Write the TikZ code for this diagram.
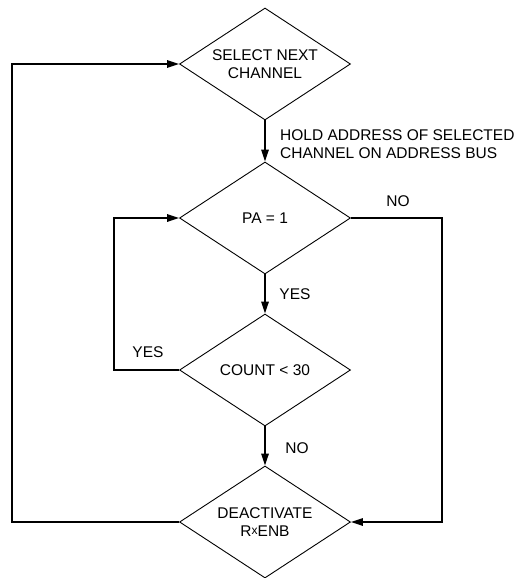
\documentclass[tikz,border=0pt]{standalone}
\usepackage{fontspec}
\setmainfont{Liberation Sans}
\usetikzlibrary{shapes.geometric,arrows.meta}
\begin{document}
\begin{tikzpicture}[x=1pt,y=-1pt,
  every node/.style={font=\fontsize{15.5}{18.5}\selectfont},
  dia/.style={diamond,draw,line width=0.9pt,aspect=1.52,inner sep=0pt,
    minimum width=171pt,minimum height=112pt,align=center},
  conn/.style={line width=1.6pt},
  arr/.style={conn,-{Triangle[length=12pt,width=7.5pt]}},
  lbl/.style={inner sep=0pt}]
\useasboundingbox (0,0) rectangle (522,578);
\node[dia] (d1) at (265,64) {SELECT NEXT\\CHANNEL};
\node[dia] (d2) at (265,218) {PA = 1};
\node[dia] (d3) at (265,370) {COUNT < 30};
\node[dia] (d4) at (265,522) {DEACTIVATE\\R\raisebox{1.8pt}{\fontsize{12}{12}\selectfont x}ENB};
\coordinate (lt) at (12,64);
\coordinate (lb) at (12,522);
\coordinate (it) at (114,218);
\coordinate (ib) at (114,370);
\coordinate (rt) at (442,218);
\coordinate (rb) at (442,522);
\draw[arr] (d1.south) -- (d2.north);
\draw[arr] (d2.south) -- (d3.north);
\draw[arr] (d3.south) -- (d4.north);
\draw[arr] (d4.west) -- (lb) -- (lt) -- (d1.west);
\draw[arr] (d3.west) -- (ib) -- (it) -- (d2.west);
\draw[arr] (d2.east) -- (rt) -- (rb) -- (d4.east);
\node[lbl,anchor=west,align=left] (hold) at (280,144) {HOLD ADDRESS OF SELECTED\\CHANNEL ON ADDRESS BUS};
\node[lbl] (no1) at (398,201) {NO};
\node[lbl] (yes1) at (295,294) {YES};
\node[lbl] (yes2) at (148,352) {YES};
\node[lbl] (no2) at (297,448) {NO};
\end{tikzpicture}
\end{document}
